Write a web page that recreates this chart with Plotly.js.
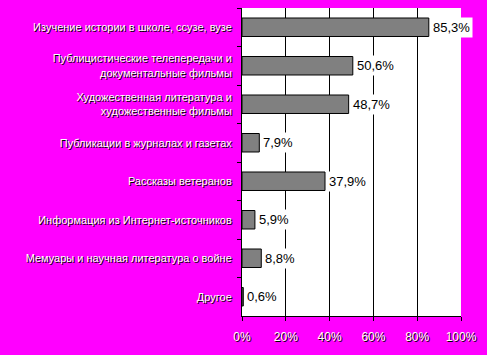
<!DOCTYPE html>
<html><head><meta charset="utf-8">
<script src="https://cdn.plot.ly/plotly-3.0.1.min.js"></script>
<style>body{margin:0;background:#FF00FF}</style>
</head><body>
<div id="chart" style="width:487px;height:355px"></div>
<script>
var categories = [
  "Изучение истории в школе, ссузе, вузе",
  "Публицистические телепередачи и<br>документальные фильмы",
  "Художественная литература и<br>художественные фильмы",
  "Публикации в журналах и газетах",
  "Рассказы ветеранов",
  "Информация из Интернет-источников",
  "Мемуары и научная литература о войне",
  "Другое"
];
var values = [85.3, 50.6, 48.7, 7.9, 37.9, 5.9, 8.8, 0.6];
var xTickVals = [0, 20, 40, 60, 80, 100];
var xTickText = ["0%", "20%", "40%", "60%", "80%", "100%"];
var gridVals = [20, 40, 60, 80];

var catFont = {family: "Liberation Sans, Arial, sans-serif", size: 11, color: "#ffffff", shadow: "1px 1px 0px #000000"};
var xFont = {family: "Liberation Sans, Arial, sans-serif", size: 12, color: "#ffffff", shadow: "1px 1px 0px #000000"};

var trace = {
  type: "bar", orientation: "h",
  x: values, y: categories,
  marker: {color: "#808080", line: {color: "#000000", width: 1}},
  hoverinfo: "none"
};

var annotations = values.map(function (v, i) {
  return {
    x: v, y: categories[i], xref: "x", yref: "y",
    text: v.toFixed(1).replace(".", ",") + "%",
    showarrow: false, xanchor: "left", yanchor: "middle", xshift: 1,
    bgcolor: "#ffffff", borderpad: 2,
    font: {family: "Liberation Sans, Arial, sans-serif", size: 13, color: "#000000"}
  };
});

var layout = {
  width: 487, height: 355,
  paper_bgcolor: "#FF00FF", plot_bgcolor: "#ffffff",
  margin: {l: 242, r: 26, t: 8, b: 39},
  bargap: 0.52,
  showlegend: false,
  xaxis: {
    range: [0, 100], tickvals: xTickVals, ticktext: xTickText,
    showgrid: false,
    showline: true, linecolor: "#000000", linewidth: 1,
    ticks: "outside", ticklen: 4, tickcolor: "#000000",
    zeroline: false, tickfont: xFont, ticklabelstandoff: 6, fixedrange: true
  },
  xaxis2: {
    overlaying: "x", matches: "x", range: [0, 100], tickvals: gridVals,
    showticklabels: false, ticks: "", showline: false, zeroline: false,
    showgrid: true, gridcolor: "#000000", gridwidth: 1, fixedrange: true
  },
  yaxis: {
    autorange: "reversed", type: "category",
    showline: true, linecolor: "#000000", linewidth: 1,
    ticks: "outside", ticklen: 4, tickcolor: "#000000", tickson: "boundaries",
    showgrid: false, tickfont: catFont, ticklabelstandoff: 7, fixedrange: true
  },
  annotations: annotations
};

var gridTrace = {type: "scatter", x: [], y: [], xaxis: "x2", yaxis: "y", hoverinfo: "none", showlegend: false};

Plotly.newPlot("chart", [gridTrace, trace], layout, {displayModeBar: false, staticPlot: true});
</script>
</body></html>
